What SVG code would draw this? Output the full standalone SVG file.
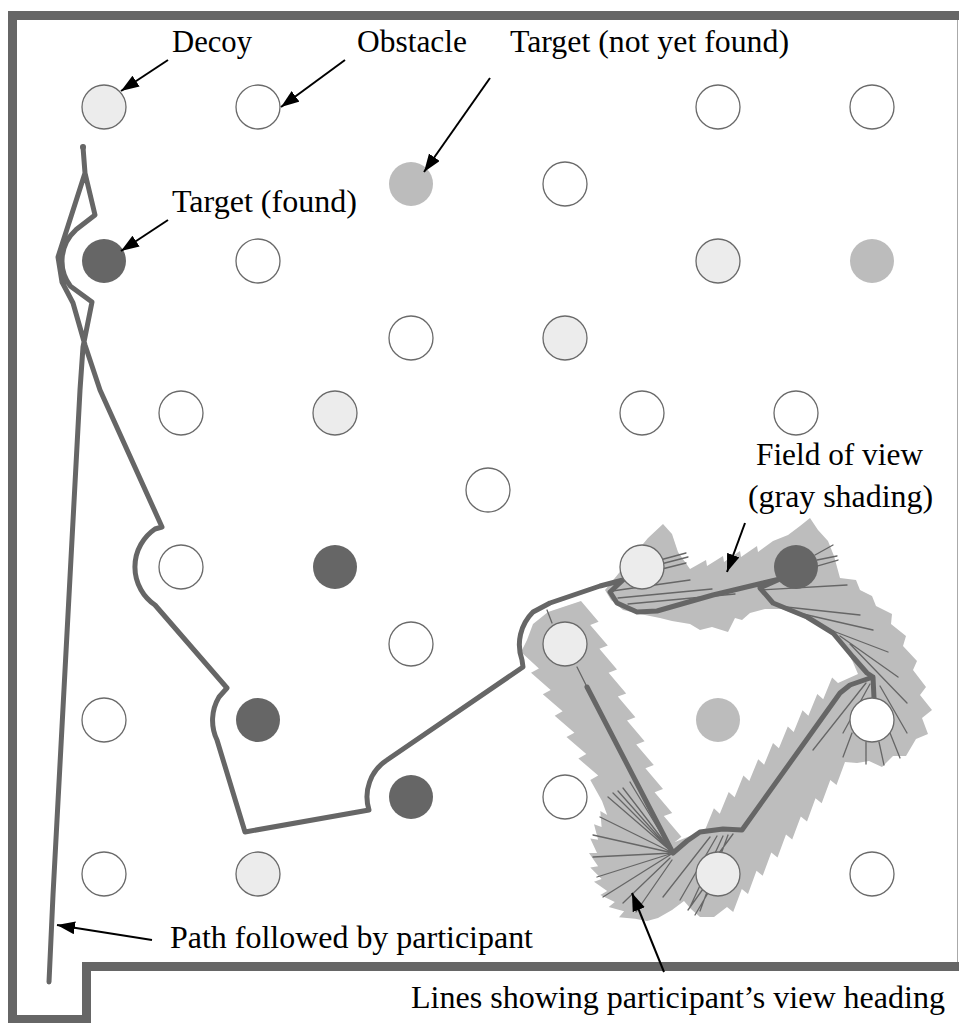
<svg xmlns="http://www.w3.org/2000/svg" width="959" height="1023" viewBox="0 0 959 1023">
<style>
.wall{fill:none;stroke:#666;stroke-width:9;stroke-linejoin:miter}
.path{fill:none;stroke:#666;stroke-width:5;stroke-linejoin:round;stroke-linecap:round}
.head{fill:none;stroke:#666;stroke-width:1.3;stroke-linecap:round}
.shade{fill:#bdbdbd;stroke:none}
.obs{fill:#fff;stroke:#6a6a6a;stroke-width:1.3}
.decoy{fill:#ececec;stroke:#6a6a6a;stroke-width:1.3}
.tnf{fill:#bcbcbc;stroke:none}
.tf{fill:#666;stroke:none}
.arrow{stroke:#000;stroke-width:2;fill:none;marker-end:url(#ah)}
</style>
<defs>
<marker id="ah" markerUnits="userSpaceOnUse" markerWidth="20" markerHeight="14" refX="18" refY="6.5" orient="auto">
<path d="M0,0 L18,6.5 L0,13 z" fill="#000"/>
</marker>
</defs>
<rect width="959" height="1023" fill="#fff"/>
<g id="walls">
<path class="wall" d="M959,15.5 H12.5 V1019.5 H86.5 V966.5 H959"/>
<line x1="957.5" y1="20" x2="957.5" y2="962" stroke="#aaa" stroke-width="1"/>
</g>
<g id="field-of-view">
<polygon class="shade" points="605,590 628,562 648,538 663,524 672,534 678,552 690,569 706,560 707,566 723,556 724,562 740,551 741,557 757,546 758,552 773,541 788,535 800,526 810,518 818,530 828,541 834,556 840,578 856,580 860,590 872,596 876,606 892,614 891,624 906,636 903,646 917,661 913,670 926,687 920,695 932,710 922,718 928,734 916,739 906,756 893,756 882,767 869,761 857,763 845,762 836.5,785.1 830.3,780.1 821.7,803.3 815.5,798.3 807,821.4 800.8,816.4 792.2,839.5 786,834.5 777.5,857.6 771.3,852.6 762.7,875.8 756.5,870.8 748,893.9 741.8,888.9 733.2,912 727,907 714,917 700,917 691,909 684,901 672,910 658,918 647,921 635,918.8 619,917.3 624.1,911.2 608.7,907 614.8,901.9 600.3,895 607.2,891 594,881.7 601.6,879 590.3,867.6 598.1,866.2 589,853 597,853 590.3,838.4 598.1,839.8 594,824.3 601.6,827 600.3,811 607.2,815 602,801 590.3,780 598.2,775.6 578.4,758.5 586.3,754.1 566.5,737.1 574.4,732.7 554.7,715.7 562.6,711.3 542.8,694.3 550.7,689.9 531,672.8 538.9,668.4 521,652 527,640 533,624 548,612 581,601 598.6,621.7 590.2,624.9 607.8,645.6 599.4,648.8 617,669.5 608.6,672.7 626.2,693.4 617.8,696.6 635.4,717.3 627,720.5 644.6,741.2 636.2,744.4 653.8,765.1 645.4,768.3 663,789 654.6,792.2 672.2,812.9 663.8,816.1 681.4,836.8 675,842 705,830 713.9,808.3 719.8,813.7 728.7,791.9 734.6,797.3 743.4,775.6 749.3,781 758.2,759.3 764.1,764.7 773,742.9 778.9,748.3 787.8,726.6 793.7,732 802.5,710.3 808.4,715.7 817.3,693.9 823.2,699.3 832.1,677.6 838,683 858,674 852,660 840,642 822,627 802,617 782,609 765,609 750,613 742,620 735,618 728,632 712,627 700,630 690,624 672,621 660,618 640,614 623,610 611,600"/>
</g>
<g id="heading-lines">
<path class="head" d="M660,560 L686,553 M661,564 L688,557 M662,569 L686,563 M612,591 L690,580 M618,598 L712,589 M628,604 L735,594 M815,555 L833,545 M817,560 L837,556 M817,566 L838,560 M760,590 L847,585 M777,606 L860,615 M790,611 L873,630 M833,631 L888,652 M840,636 L898,677 M850,644 L907,703 M866,683 L813,750 M870,684 L843,733 M880,686 L907,733 M852,733 L843,757 M866,742 L866,764 M879,742 L884,765 M890,733 L900,758 M673,853 L593,835 M673,853 L593,857 M673,853 L597,877 M673,853 L603,897 M673,853 L600,817 M673,853 L608,797 M673,853 L613,793 M673,853 L618,791 M673,853 L623,788 M673,853 L630,782 M670,858 L623,903 M672,860 L636,912 M710,837 L663,897 M717,836 L680,900 M723,836 L690,907 M728,835 L700,911 M733,834 L708,868 M703,889 L688,910 M708,893 L695,915 M577,667 L587,687 M547,610 L552,623"/>
</g>
<g id="participant-path">
<path class="path" d="M49,982 L53,895 L80,390 L83,347 L92,302 L70.5,286.3 A42,42 0 0 1 75.9,229.8 L95,215 L85,173 L83,147 L85,173 L58,257 L62,282 L73,303 L85,345 L100,390 L162,527 L155,529 A46,46 0 0 0 155,605 L227,688 L219,697 A45.6,45.6 0 0 0 217,740 L245,832 L369,810 A44,44 0 0 1 387,760 L523,667 L522,660 A46,46 0 0 1 533,612 L550,603 L600,586 L623,580 L610,592 L617,603 L637,612 L657,611 L713,595 L763,583 L780,579 L760,588 L773,603 L807,617 L833,633 L853,657 L867,673 L873,677 L874,698 L873,677 L850,685 L840,693 L742,830 L723,829 L700,832 L687,841 L673,853 L587,687"/>
<circle cx="83" cy="147" r="3" fill="#666"/>
</g>
<g id="nodes">
<circle id="decoy-1" class="decoy" cx="104" cy="107" r="22"/>
<circle id="obstacle-1" class="obs" cx="258" cy="107" r="22"/>
<circle id="obstacle-2" class="obs" cx="718" cy="107" r="22"/>
<circle id="obstacle-3" class="obs" cx="872" cy="107" r="22"/>
<circle id="target-nf-1" class="tnf" cx="411" cy="184" r="22"/>
<circle id="obstacle-4" class="obs" cx="565" cy="184" r="22"/>
<circle id="target-f-1" class="tf" cx="104" cy="261" r="22"/>
<circle id="obstacle-5" class="obs" cx="258" cy="261" r="22"/>
<circle id="decoy-2" class="decoy" cx="718" cy="261" r="22"/>
<circle id="target-nf-2" class="tnf" cx="872" cy="261" r="22"/>
<circle id="obstacle-6" class="obs" cx="411" cy="338" r="22"/>
<circle id="decoy-3" class="decoy" cx="565" cy="338" r="22"/>
<circle id="obstacle-7" class="obs" cx="181" cy="413" r="22"/>
<circle id="decoy-4" class="decoy" cx="335" cy="413" r="22"/>
<circle id="obstacle-8" class="obs" cx="642" cy="413" r="22"/>
<circle id="obstacle-9" class="obs" cx="796" cy="413" r="22"/>
<circle id="obstacle-10" class="obs" cx="488" cy="490" r="22"/>
<circle id="obstacle-11" class="obs" cx="181" cy="567" r="22"/>
<circle id="target-f-2" class="tf" cx="335" cy="567" r="22"/>
<circle id="decoy-5" class="decoy" cx="642" cy="567" r="22"/>
<circle id="target-f-3" class="tf" cx="796" cy="567" r="22"/>
<circle id="obstacle-12" class="obs" cx="411" cy="644" r="22"/>
<circle id="decoy-6" class="decoy" cx="565" cy="644" r="22"/>
<circle id="obstacle-13" class="obs" cx="104" cy="720" r="22"/>
<circle id="target-f-4" class="tf" cx="258" cy="720" r="22"/>
<circle id="target-nf-3" class="tnf" cx="718" cy="720" r="22"/>
<circle id="obstacle-14" class="obs" cx="872" cy="720" r="22"/>
<circle id="target-f-5" class="tf" cx="411" cy="797" r="22"/>
<circle id="obstacle-15" class="obs" cx="565" cy="797" r="22"/>
<circle id="obstacle-16" class="obs" cx="104" cy="874" r="22"/>
<circle id="decoy-7" class="decoy" cx="258" cy="874" r="22"/>
<circle id="decoy-8" class="decoy" cx="718" cy="874" r="22"/>
<circle id="obstacle-17" class="obs" cx="872" cy="874" r="22"/>
</g>
<g id="labels" font-family="Liberation Serif, Times New Roman, Times, serif" font-size="31" fill="#000">
<text x="172" y="52" textLength="80" lengthAdjust="spacingAndGlyphs">Decoy</text>
<text x="357" y="52" textLength="110" lengthAdjust="spacingAndGlyphs">Obstacle</text>
<text x="510" y="52" textLength="279" lengthAdjust="spacingAndGlyphs">Target (not yet found)</text>
<text x="172" y="212" textLength="185" lengthAdjust="spacingAndGlyphs">Target (found)</text>
<text x="756" y="465" textLength="167" lengthAdjust="spacingAndGlyphs">Field of view</text>
<text x="748" y="507" textLength="185" lengthAdjust="spacingAndGlyphs">(gray shading)</text>
<text x="170" y="948" textLength="363" lengthAdjust="spacingAndGlyphs">Path followed by participant</text>
<text x="411" y="1008" textLength="534" lengthAdjust="spacingAndGlyphs">Lines showing participant’s view heading</text>
</g>
<g id="connectors">
<line class="arrow" x1="168" y1="60" x2="121" y2="91"/>
<line class="arrow" x1="345" y1="60" x2="281" y2="107"/>
<line class="arrow" x1="490" y1="78" x2="424" y2="172"/>
<line class="arrow" x1="168" y1="220" x2="121" y2="251"/>
<line class="arrow" x1="745" y1="523" x2="727" y2="572"/>
<line class="arrow" x1="152" y1="940" x2="57" y2="925"/>
<line class="arrow" x1="664" y1="972" x2="632" y2="893"/>
</g>
</svg>
